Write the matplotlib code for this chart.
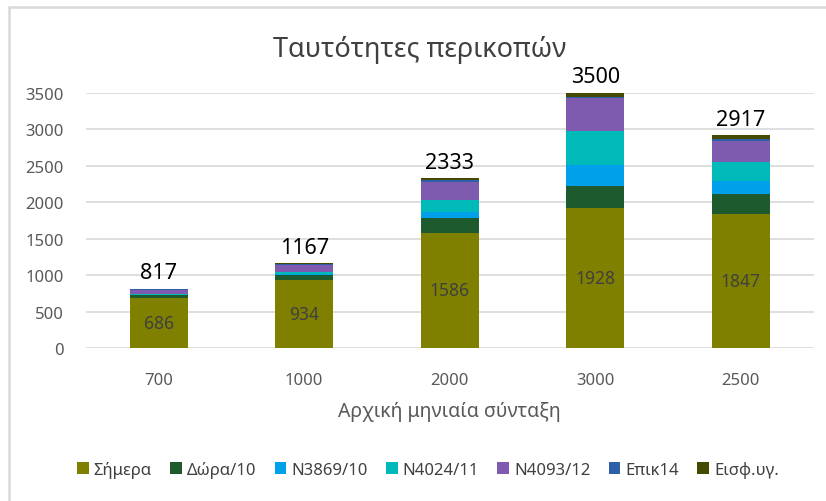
import numpy as np
import matplotlib
matplotlib.use("Agg")
import matplotlib.pyplot as plt
from matplotlib.patches import Rectangle

plt.rcParams['font.family'] = ['Noto Sans', 'DejaVu Sans']

# δεδομένα
categories = ['700', '1000', '2000', '3000', '2500']
simera = [686, 934, 1586, 1928, 1847]
dora = [40, 68, 205, 300, 274]
n3869 = [10, 15, 82, 290, 174]
n4024 = [15, 28, 155, 465, 260]
n4093 = [55, 104, 252, 440, 285]
epik = [4, 6, 20, 20, 23]
eisf = [7, 12, 33, 57, 54]
totals = [817, 1167, 2333, 3500, 2917]

series = [simera, dora, n3869, n4024, n4093, epik, eisf]
names = ['Σήμερα', 'Δώρα/10', 'N3869/10', 'N4024/11', 'N4093/12', 'Επικ14', 'Εισφ.υγ.']
colors = ['#808000', '#1d5a2d', '#00a0ea', '#00b9b9', '#7f5bb0', '#2e5fa8', '#454a00']

fig = plt.figure(figsize=(8.26, 5.02), dpi=100)
ax = fig.add_axes([0.104, 0.304, 0.881, 0.509])

x = np.arange(len(categories))
bottom = np.zeros(len(categories))
for vals, name, c in zip(series, names, colors):
    ax.bar(x, vals, 0.4, bottom=bottom, color=c, label=name, zorder=3)
    bottom += np.array(vals)

for i in range(len(categories)):
    ax.text(x[i], simera[i] / 2, str(simera[i]), ha='center', va='center',
            fontsize=12.5, color='#404040', zorder=4)
    ax.annotate(str(totals[i]), (x[i], totals[i]), xytext=(0, 4),
                textcoords='offset points', ha='center', va='bottom',
                fontsize=15.5, color='black')

ax.set_xlim(-0.5, len(categories) - 0.5)
ax.set_ylim(0, 3500)
ax.set_yticks(np.arange(0, 3501, 500))
ax.set_xticks(x)
ax.set_xticklabels(categories)
ax.tick_params(length=0, labelsize=12, colors='#595959')
ax.tick_params(axis='x', pad=17)
ax.tick_params(axis='y', pad=16)
ax.grid(axis='y', color='#d9d9d9', linewidth=1.2, zorder=0)
for s in ax.spines.values():
    s.set_visible(False)
ax.set_xlabel('Αρχική μηνιαία σύνταξη', fontsize=14, color='#595959', labelpad=9)

fig.text(0.508, 0.9, 'Ταυτότητες περικοπών', ha='center', va='center',
         fontsize=19.5, color='#404040')

fig.legend(loc='center', bbox_to_anchor=(0.518, 0.063), ncol=7, frameon=False,
           fontsize=12, handlelength=0.7, handleheight=0.7, handletextpad=0.3,
           columnspacing=1.1, labelcolor='#404040')

# γκρι περίγραμμα (πάνω και αριστερά)
fig.patches.append(Rectangle((9 / 826, -0.1), 1.2, 1 - 8 / 502 + 0.1,
                             transform=fig.transFigure, fill=False,
                             edgecolor='#d9d9d9', linewidth=1.8))

fig.savefig('out.png', dpi=100)
